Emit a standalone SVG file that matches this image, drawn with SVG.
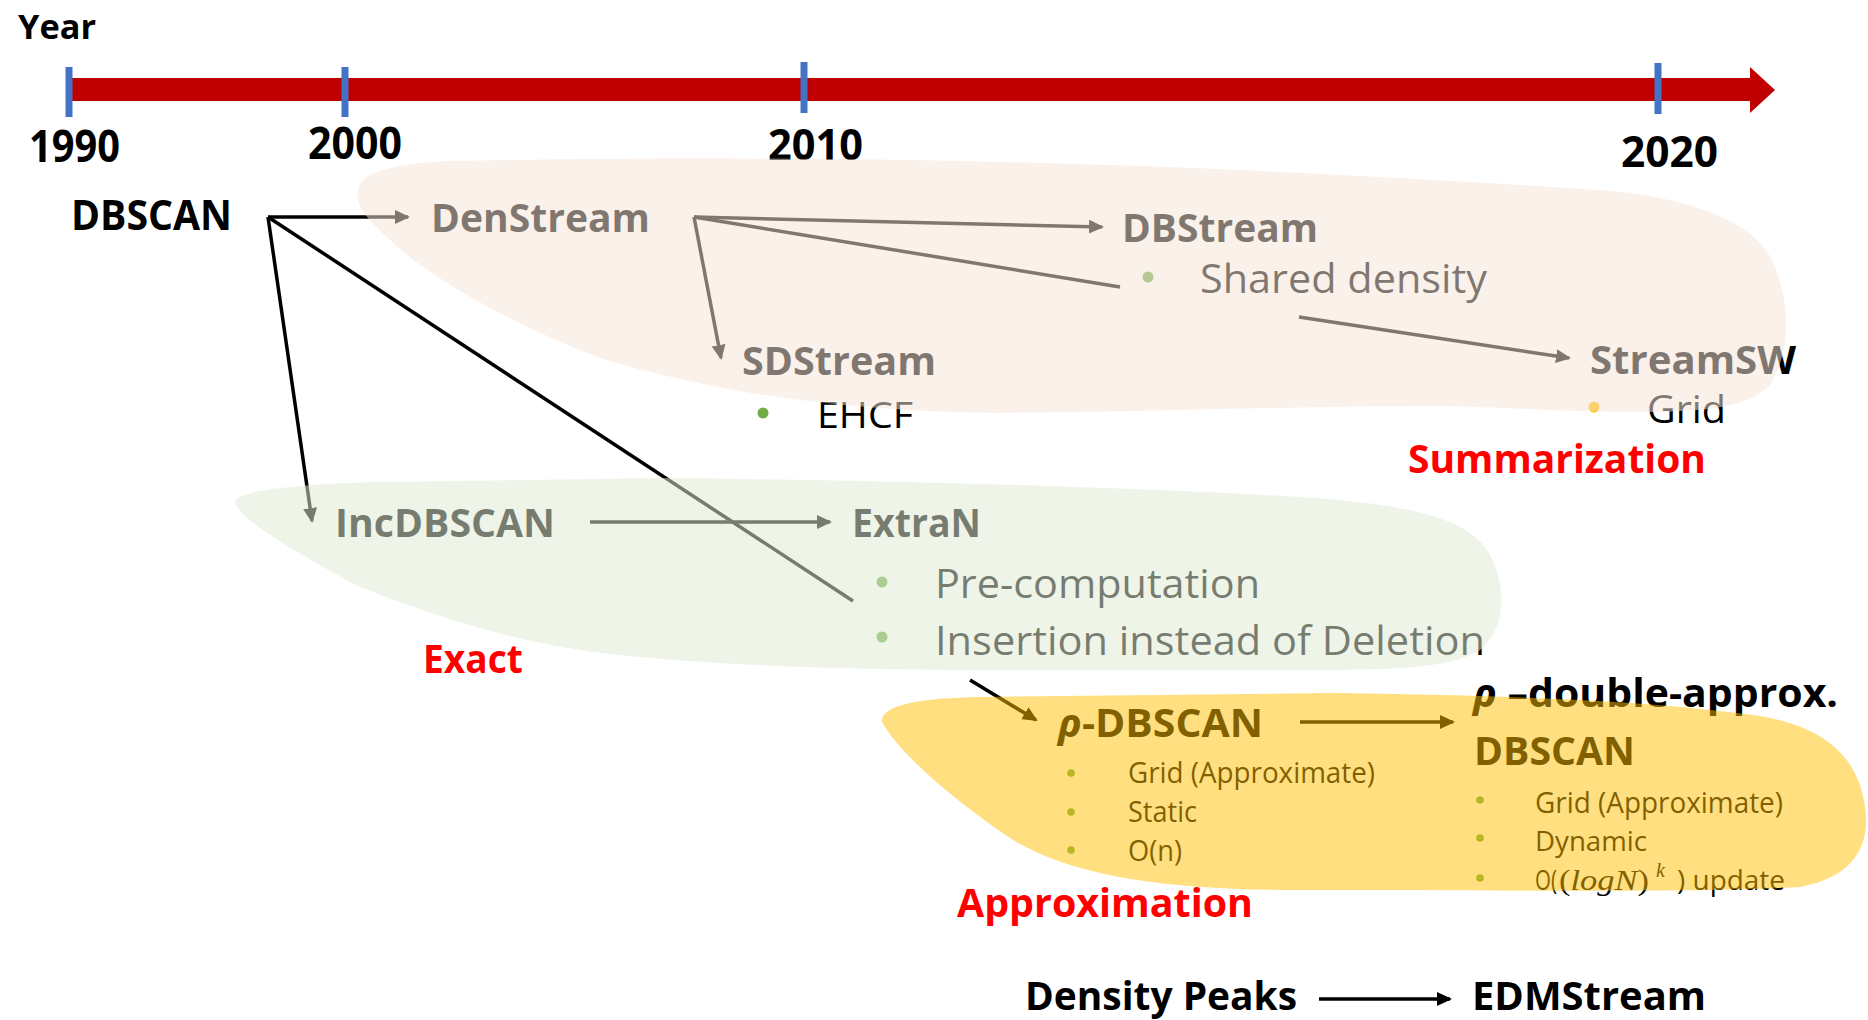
<svg xmlns="http://www.w3.org/2000/svg" width="1868" height="1020" viewBox="0 0 1868 1020">
  <defs>
    <style>
      text { font-family: "Open Sans", Lato, "Liberation Sans", sans-serif; fill: #000; }
      .b { font-weight: 700; }
      .n { font-weight: 400; }
      .red { fill: #FF0000; font-weight: 700; }
      .greek { font-family: "Noto Sans", "DejaVu Sans", sans-serif; font-style: italic; font-weight: 700; }
      .math { font-family: "Liberation Serif", "DejaVu Serif", serif; font-weight: 400; }
      .conn { stroke: #000; stroke-width: 3.5; fill: none; }
      .tick { stroke: #4472C4; stroke-width: 7; }
      .dot { fill: #70AD47; }
    </style>
    <marker id="arrow" markerUnits="userSpaceOnUse" viewBox="0 0 15 14" markerWidth="15" markerHeight="14" refX="13" refY="7" orient="auto">
      <path d="M0,0 L15,7 L0,14 Z" fill="#000"/>
    </marker>
  </defs>

  <rect x="0" y="0" width="1868" height="1020" fill="#FFFFFF"/>

  <!-- timeline -->
  <g id="timeline">
    <text class="b" x="18" y="39" font-size="34" textLength="78" lengthAdjust="spacingAndGlyphs">Year</text>
    <rect x="69" y="78" width="1682" height="23" fill="#C00000"/>
    <polygon points="1750,67 1775,90 1750,113" fill="#C00000"/>
    <line class="tick" x1="69" y1="67" x2="69" y2="117"/>
    <line class="tick" x1="345" y1="67" x2="345" y2="117"/>
    <line class="tick" x1="804" y1="62" x2="804" y2="113"/>
    <line class="tick" x1="1658" y1="63" x2="1658" y2="114"/>
    <text class="b" x="29" y="162" font-size="45" textLength="91" lengthAdjust="spacingAndGlyphs">1990</text>
    <text class="b" x="308" y="159" font-size="44" textLength="94" lengthAdjust="spacingAndGlyphs">2000</text>
    <text class="b" x="768" y="160" font-size="43" textLength="95" lengthAdjust="spacingAndGlyphs">2010</text>
    <text class="b" x="1621" y="167" font-size="43" textLength="97" lengthAdjust="spacingAndGlyphs">2020</text>
  </g>

  <!-- connectors -->
  <g id="connectors">
    <line class="conn" x1="268" y1="217" x2="408" y2="217" marker-end="url(#arrow)"/>
    <line class="conn" x1="268" y1="217" x2="312" y2="521" marker-end="url(#arrow)"/>
    <line class="conn" x1="268" y1="217" x2="853" y2="601"/>
    <line class="conn" x1="970" y1="680" x2="1036" y2="720" marker-end="url(#arrow)"/>
    <line class="conn" x1="694" y1="217" x2="1102" y2="227" marker-end="url(#arrow)"/>
    <line class="conn" x1="694" y1="217" x2="721" y2="358" marker-end="url(#arrow)"/>
    <line class="conn" x1="694" y1="217" x2="1120" y2="287"/>
    <line class="conn" x1="1299" y1="317" x2="1569" y2="358" marker-end="url(#arrow)"/>
    <line class="conn" x1="590" y1="522" x2="830" y2="522" marker-end="url(#arrow)"/>
    <line class="conn" x1="1300" y1="722" x2="1453" y2="722" marker-end="url(#arrow)"/>
    <line class="conn" x1="1319" y1="999" x2="1450" y2="999" marker-end="url(#arrow)"/>
  </g>

  <!-- nodes -->
  <g id="node-dbscan">
    <text class="b" x="71" y="230" font-size="41" textLength="161" lengthAdjust="spacingAndGlyphs">DBSCAN</text>
  </g>
  <g id="node-denstream">
    <text class="b" x="431" y="232" font-size="40" textLength="219" lengthAdjust="spacingAndGlyphs">DenStream</text>
  </g>
  <g id="node-sdstream">
    <text class="b" x="742" y="375" font-size="40" textLength="194" lengthAdjust="spacingAndGlyphs">SDStream</text>
    <circle class="dot" cx="763" cy="413" r="5.5"/>
    <text class="n" x="817" y="428" font-size="37" textLength="96" lengthAdjust="spacingAndGlyphs">EHCF</text>
  </g>
  <g id="node-dbstream">
    <text class="b" x="1122" y="242" font-size="40" textLength="196" lengthAdjust="spacingAndGlyphs">DBStream</text>
    <circle class="dot" cx="1148" cy="277" r="5.5"/>
    <text class="n" x="1200" y="293" font-size="41" textLength="287" lengthAdjust="spacingAndGlyphs">Shared density</text>
  </g>
  <g id="node-streamsw">
    <text class="b" x="1590" y="374" font-size="39" textLength="206" lengthAdjust="spacingAndGlyphs">StreamSW</text>
    <circle cx="1594" cy="407" r="5.5" fill="#FFC000"/>
    <text class="n" x="1647" y="423" font-size="39" textLength="79" lengthAdjust="spacingAndGlyphs">Grid</text>
  </g>
  <g id="node-incdbscan">
    <text class="b" x="335" y="537" font-size="40" textLength="220" lengthAdjust="spacingAndGlyphs">IncDBSCAN</text>
  </g>
  <g id="node-extran">
    <text class="b" x="852" y="537" font-size="40" textLength="129" lengthAdjust="spacingAndGlyphs">ExtraN</text>
    <circle class="dot" cx="882" cy="582" r="5.5"/>
    <text class="n" x="935" y="598" font-size="40" textLength="325" lengthAdjust="spacingAndGlyphs">Pre-computation</text>
    <circle class="dot" cx="882" cy="637" r="5.5"/>
    <text class="n" x="935" y="655" font-size="40" textLength="550" lengthAdjust="spacingAndGlyphs">Insertion instead of Deletion</text>
  </g>
  <g id="node-rho-dbscan">
    <text class="b" x="1058" y="737" font-size="39" textLength="205" lengthAdjust="spacingAndGlyphs"><tspan class="greek">ρ</tspan>-DBSCAN</text>
    <circle class="dot" cx="1071" cy="773" r="3.8"/>
    <text class="n" x="1128" y="783" font-size="29" textLength="247" lengthAdjust="spacingAndGlyphs">Grid (Approximate)</text>
    <circle class="dot" cx="1071" cy="812" r="3.8"/>
    <text class="n" x="1128" y="822" font-size="29" textLength="69" lengthAdjust="spacingAndGlyphs">Static</text>
    <circle class="dot" cx="1071" cy="850" r="3.8"/>
    <text class="n" x="1128" y="861" font-size="29" textLength="54" lengthAdjust="spacingAndGlyphs">O(n)</text>
  </g>
  <g id="node-rho-double">
    <text class="b" x="1473" y="707" font-size="39" textLength="365" lengthAdjust="spacingAndGlyphs"><tspan class="greek">ρ</tspan> –double-approx.</text>
    <text class="b" x="1474" y="765" font-size="39" textLength="161" lengthAdjust="spacingAndGlyphs">DBSCAN</text>
    <circle class="dot" cx="1480" cy="800" r="3.8"/>
    <text class="n" x="1535" y="813" font-size="29" textLength="248" lengthAdjust="spacingAndGlyphs">Grid (Approximate)</text>
    <circle class="dot" cx="1480" cy="838" r="3.8"/>
    <text class="n" x="1535" y="851" font-size="28" textLength="112" lengthAdjust="spacingAndGlyphs">Dynamic</text>
    <circle class="dot" cx="1480" cy="878" r="3.8"/>
    <text class="n" x="1535" y="890" font-size="28" textLength="22" lengthAdjust="spacingAndGlyphs">O(</text>
    <text class="math" x="1559" y="890" font-size="29" textLength="90" lengthAdjust="spacingAndGlyphs">(<tspan font-style="italic">logN</tspan>)</text>
    <text class="math" x="1656" y="877" font-size="20" font-style="italic">k</text>
    <text class="n" x="1677" y="890" font-size="28" textLength="108" lengthAdjust="spacingAndGlyphs">) update</text>
  </g>
  <g id="node-density-peaks">
    <text class="b" x="1025" y="1010" font-size="40" textLength="272" lengthAdjust="spacingAndGlyphs">Density Peaks</text>
  </g>
  <g id="node-edmstream">
    <text class="b" x="1472" y="1010" font-size="40" textLength="234" lengthAdjust="spacingAndGlyphs">EDMStream</text>
  </g>

  <!-- translucent category regions laid over the nodes -->
  <g id="regions">
    <path id="region-summarization" fill="#F5E4D6" fill-opacity="0.52"
      d="M358,200 C352,172 390,164 450,161 C600,158 800,157 1000,162 C1200,166 1450,180 1600,190 C1700,198 1755,225 1772,260 C1790,300 1792,350 1770,385 C1750,405 1720,410 1660,412 C1560,412 1500,407 1440,406 C1300,406 1150,412 1000,413 C860,412 720,395 600,358 C500,320 420,270 390,240 C370,222 360,210 358,200 Z"/>
    <path id="region-exact" fill="#E0EBD4" fill-opacity="0.53"
      d="M235,503 C235,490 300,484 380,482 L660,478 C900,480 1150,488 1300,497 C1420,505 1470,520 1490,555 C1508,590 1505,630 1480,650 C1450,668 1400,670 1300,670 L1000,670 C850,670 700,665 602,653 C500,640 420,610 360,587 C300,555 240,520 235,503 Z"/>
    <path id="region-approximation" fill="#FFC000" fill-opacity="0.5"
      d="M882,722 C880,705 920,698 980,697 L1330,693 C1500,695 1650,700 1760,716 C1840,730 1862,770 1866,815 C1868,850 1850,878 1800,887 C1700,893 1500,890 1300,890 C1180,890 1080,880 1013,840 C960,805 900,755 882,722 Z"/>
  </g>

  <!-- category labels -->
  <g id="labels">
    <text class="red" x="1408" y="473" font-size="40" textLength="298" lengthAdjust="spacingAndGlyphs">Summarization</text>
    <text class="red" x="423" y="673" font-size="40" textLength="100" lengthAdjust="spacingAndGlyphs">Exact</text>
    <text class="red" x="957" y="917" font-size="40" textLength="296" lengthAdjust="spacingAndGlyphs">Approximation</text>
  </g>
</svg>
